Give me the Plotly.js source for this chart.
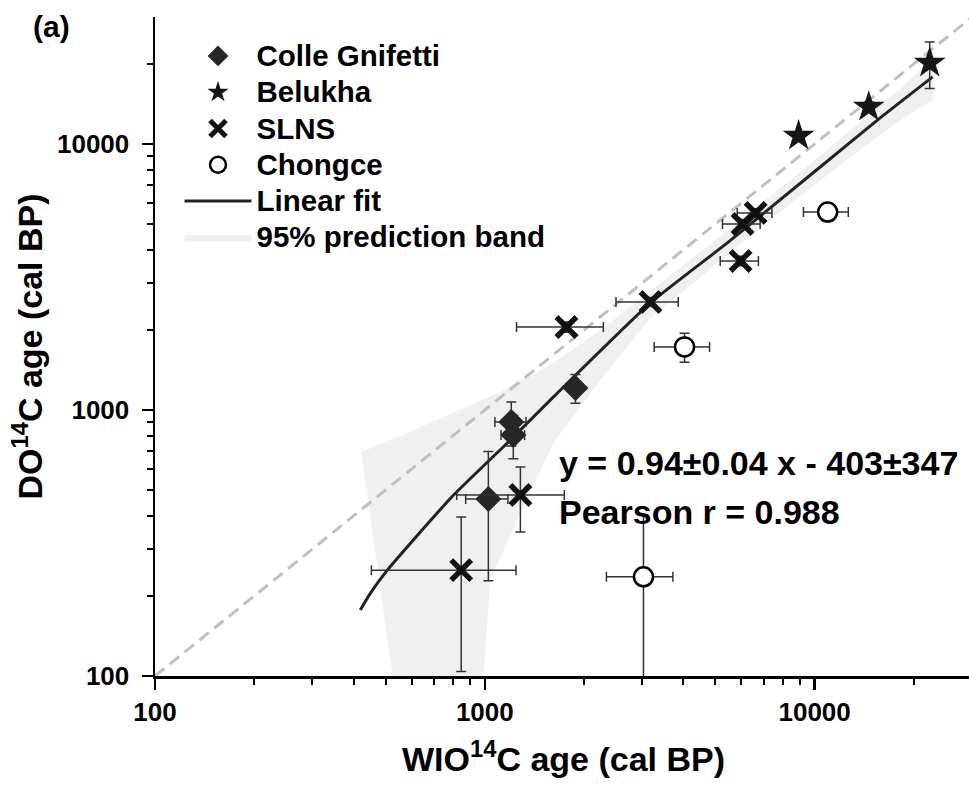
<!DOCTYPE html>
<html>
<head>
<meta charset="utf-8">
<script src="https://cdn.plot.ly/plotly-3.0.1.min.js"></script>
<style>
html,body{margin:0;padding:0;overflow:hidden;background:#fff;}
#chart{width:972px;height:791px;}
</style>
</head>
<body>
<div id="chart"></div>
<script>
// ---- data ----
var cgX = [1883, 1203, 1220, 1025];
var cgY = [1209, 902, 806, 463];
var cgXErr = [60, 130, 100, 150];
var cgYErr = [150, 170, 150, 235];

var beX = [8943, 14590, 22330];
var beY = [10720, 13770, 20160];
var beXErr = [150, 250, 300];
var beYErr = [300, 600, 4000];

var slX = [1768, 3179, 5963, 6046, 6622, 1282, 848];
var slY = [2051, 2547, 3631, 5002, 5504, 479, 250];
var slXErr = [520, 680, 790, 790, 800, 460, 395];
var slYErr = [90, 100, 150, 200, 200, 131, 146];

var chX = [10950, 4032, 3027];
var chY = [5546, 1726, 236];
var chXErr = [1700, 770, 690];
var chYErr = [420, 215, 167];

var fitX = [419, 450, 505, 795, 1168, 1618, 3179, 5483, 15530, 22800];
var fitY = [177, 205, 249, 472, 750, 1122, 2526, 4282, 12310, 17860];

var bandUpperX = [422, 554, 786, 1114, 1581, 2241, 3179, 4508, 6393, 9070, 12860, 18240, 22810];
var bandUpperY = [695, 799, 966, 1169, 1476, 2000, 2802, 3926, 5551, 7849, 11290, 16240, 21060];
var bandLowerX = [528, 989, 1039, 1255, 1614, 2241, 3179, 4508, 6393, 9070, 12860, 18240, 22810];
var bandLowerY = [95, 95, 230, 386, 752, 1296, 2218, 3162, 4509, 6375, 8937, 12310, 14640];

var oneToOne = [100, 30000];

var majorTicks = [100, 1000, 10000];
var majorLabels = ['100', '1000', '10000'];
var minorTicks = [200,300,400,500,600,700,800,900,2000,3000,4000,5000,6000,7000,8000,9000,20000];

// ---- build ----
var FONT = 'Liberation Sans, Arial, sans-serif';
var ebStyle = {color:'#333', thickness:1.5, width:5};

var bandX = bandUpperX.concat(bandLowerX.slice().reverse());
var bandY = bandUpperY.concat(bandLowerY.slice().reverse());

function legName(s){ return '<span style="font-size:29.5px">' + s + '</span>'; }

var traces = [
  {x: bandX, y: bandY, type:'scatter', mode:'lines', fill:'toself', fillcolor:'#f0f0f0',
   line:{width:0, color:'#f0f0f0'}, name:legName('95% prediction band'), legendrank:6, hoverinfo:'skip'},
  {x: oneToOne, y: oneToOne, type:'scatter', mode:'lines', line:{color:'#c0c0c0', width:3, dash:'12px,7px'},
   showlegend:false, hoverinfo:'skip'},
  {x: fitX, y: fitY, type:'scatter', mode:'lines', line:{color:'#222', width:3, shape:'spline', smoothing:0.5},
   name:legName('Linear fit'), legendrank:5},
  {x: cgX, y: cgY, type:'scatter', mode:'markers', name:legName('Colle Gnifetti'), legendrank:1,
   marker:{symbol:'diamond', size:20, color:'#262626'},
   error_x:Object.assign({type:'data', array:cgXErr, symmetric:true}, ebStyle),
   error_y:Object.assign({type:'data', array:cgYErr, symmetric:true}, ebStyle)},
  {x: beX, y: beY, type:'scatter', mode:'markers', name:legName('Belukha'), legendrank:2,
   marker:{symbol:'star', size:24, color:'#161616'},
   error_x:Object.assign({type:'data', array:beXErr, symmetric:true}, ebStyle),
   error_y:Object.assign({type:'data', array:beYErr, symmetric:true}, ebStyle)},
  {x: slX, y: slY, type:'scatter', mode:'markers', name:legName('SLNS'), legendrank:3,
   marker:{symbol:'x-thin', size:20, color:'#111', line:{width:5.5, color:'#111'}},
   error_x:Object.assign({type:'data', array:slXErr, symmetric:true}, ebStyle),
   error_y:Object.assign({type:'data', array:slYErr, symmetric:true}, ebStyle)},
  {x: chX, y: chY, type:'scatter', mode:'markers', name:legName('Chongce'), legendrank:4,
   marker:{symbol:'circle', size:19, color:'#fff', line:{width:2.5, color:'#000'}},
   error_x:Object.assign({type:'data', array:chXErr, symmetric:true}, ebStyle),
   error_y:Object.assign({type:'data', array:chYErr, symmetric:true}, ebStyle)}
];

var tickFont = {family:FONT, size:26, color:'#000', weight:'bold'};
var xr = [Math.log10(100), Math.log10(30000)];
var yr = [Math.log10(100), Math.log10(30000)];

function axisBase(){
  return {type:'log', showgrid:false, zeroline:false, showline:true, linecolor:'#000', linewidth:2.5,
    tickvals:majorTicks, ticktext:majorLabels, ticklen:11, tickwidth:2.5, tickcolor:'#000',
    minor:{tickmode:'array', tickvals:minorTicks, ticklen:6, tickwidth:2, tickcolor:'#000', ticks:'outside'},
    tickfont:tickFont};
}

var xaxis = Object.assign(axisBase(), {range:xr, ticks:'outside', ticklabelstandoff:0,
  title:{text:'WIO<sup>14</sup>C age (cal BP)', font:{family:FONT, size:34, color:'#000', weight:'bold'}, standoff:22}});
var yaxis = Object.assign(axisBase(), {range:yr, ticks:'outside', ticklabelstandoff:7,
  title:{text:'DO<sup>14</sup>C age (cal BP)', font:{family:FONT, size:34, color:'#000', weight:'bold'}, standoff:4}});
var xaxis2 = Object.assign(axisBase(), {range:xr, overlaying:'x', side:'top', anchor:'y', ticks:'inside',
  showticklabels:false, minor:{tickmode:'array', tickvals:minorTicks, ticklen:6, tickwidth:2, tickcolor:'#000', ticks:'inside'}});
var yaxis2 = Object.assign(axisBase(), {range:yr, overlaying:'y', side:'right', anchor:'x', ticks:'inside',
  showticklabels:false, minor:{tickmode:'array', tickvals:minorTicks, ticklen:6, tickwidth:2, tickcolor:'#000', ticks:'inside'}});

var layout = {
  width:972, height:791,
  margin:{l:155, r:0, t:17, b:115},
  paper_bgcolor:'#fff', plot_bgcolor:'#fff',
  font:{family:FONT, color:'#000'},
  title:{text:'(a)', x:0.034, xanchor:'left', y:0.966, yanchor:'middle',
    font:{family:FONT, size:30, color:'#000', weight:'bold'}},
  xaxis:xaxis, yaxis:yaxis, xaxis2:xaxis2, yaxis2:yaxis2,
  showlegend:true,
  legend:{x:0.03, y:0.976, xanchor:'left', yanchor:'top', bgcolor:'rgba(0,0,0,0)', borderwidth:0,
    font:{family:FONT, size:25.6, color:'#000', weight:'bold'}, itemwidth:67, itemsizing:'trace',
    traceorder:'normal'},
  annotations:[
    {xref:'paper', yref:'paper', x:(557-155)/817, y:(676-463)/659, xanchor:'left', yanchor:'middle', showarrow:false,
     text:'y = 0.94\u00b10.04 x - 403\u00b1347', font:{family:FONT, size:34, color:'#000', weight:'bold'}},
    {xref:'paper', yref:'paper', x:(557-155)/817, y:(676-512)/659, xanchor:'left', yanchor:'middle', showarrow:false,
     text:'Pearson r = 0.988', font:{family:FONT, size:34, color:'#000', weight:'bold'}}
  ]
};

Plotly.newPlot('chart', traces, layout, {displayModeBar:false, staticPlot:true});
</script>
</body>
</html>
